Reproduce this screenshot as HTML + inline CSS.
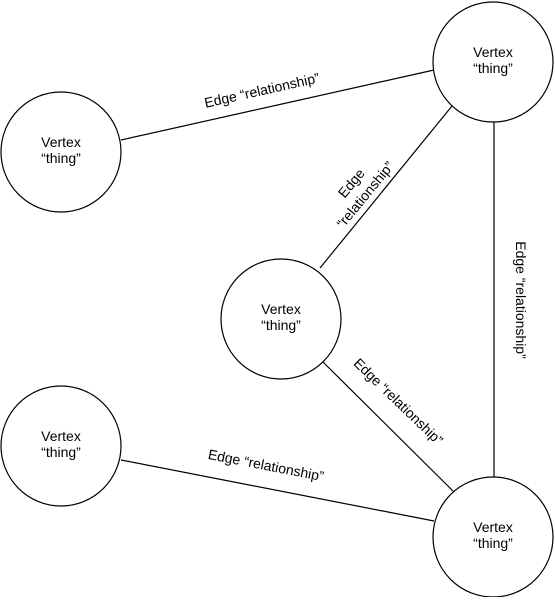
<!DOCTYPE html>
<html><head><style>body{margin:0;background:#fff}</style></head><body>
<svg width="555" height="597" xmlns="http://www.w3.org/2000/svg" font-family="Liberation Sans, Arial, sans-serif" font-size="14" fill="#000">
<g stroke="#000" stroke-width="1.2" fill="none">
<line x1="121" y1="140" x2="434" y2="70"/>
<line x1="320" y1="268" x2="452" y2="106"/>
<line x1="494" y1="122" x2="494" y2="477"/>
<line x1="323" y1="362" x2="454" y2="492"/>
<line x1="121" y1="460" x2="434" y2="521"/>
<circle cx="493" cy="62" r="60" fill="#fff"/>
<circle cx="61" cy="152" r="60" fill="#fff"/>
<circle cx="281" cy="319" r="60" fill="#fff"/>
<circle cx="61" cy="446" r="60" fill="#fff"/>
<circle cx="493" cy="537" r="60" fill="#fff"/>
</g>
<g text-anchor="middle">
<text x="493" y="57">Vertex</text><text x="493" y="73">“thing”</text>
<text x="61" y="147">Vertex</text><text x="61" y="163">“thing”</text>
<text x="281" y="314">Vertex</text><text x="281" y="330">“thing”</text>
<text x="61" y="441">Vertex</text><text x="61" y="457">“thing”</text>
<text x="493" y="532">Vertex</text><text x="493" y="548">“thing”</text>
<text transform="translate(263,95) rotate(-12.6)">Edge “relationship”</text>
<text transform="translate(265,470) rotate(11)">Edge “relationship”</text>
<text transform="translate(516,300) rotate(90)">Edge “relationship”</text>
<text transform="translate(395,405) rotate(44)">Edge “relationship”</text>
<g transform="translate(362,192) rotate(-50.5)"><text x="0" y="-9">Edge</text><text x="0" y="9">“relationship”</text></g>
</g>
</svg>
</body></html>
